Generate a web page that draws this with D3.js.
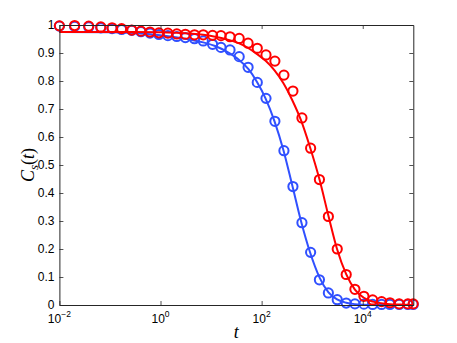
<!DOCTYPE html>
<html><head><meta charset="utf-8">
<script src="https://cdn.jsdelivr.net/npm/d3@7"></script>
<style>
html,body{margin:0;padding:0;background:#fff;}
svg{display:block;}
</style></head>
<body>
<svg id="chart" width="457" height="343"></svg>
<script>
// ---- data ----
const times = [0.01, 0.02, 0.038, 0.066, 0.11, 0.17, 0.27, 0.41, 0.62, 0.93, 1.4, 2.1, 3.1, 4.7, 7.0, 10.7, 15.7, 23.7, 36, 54, 82, 122, 183, 276, 416, 627, 931, 1390, 2090, 3130, 4710, 7000, 10550, 15700, 23600, 34500, 52600, 78200, 99500];
const redValues = [0.997, 0.998, 0.996, 0.993, 0.990, 0.987, 0.982, 0.978, 0.975, 0.972, 0.971, 0.968, 0.967, 0.965, 0.965, 0.963, 0.962, 0.958, 0.952, 0.935, 0.917, 0.893, 0.871, 0.821, 0.764, 0.668, 0.560, 0.448, 0.316, 0.200, 0.109, 0.056, 0.031, 0.018, 0.012, 0.008, 0.004, 0.004, 0.004];
const blueValues = [0.996, 0.995, 0.993, 0.990, 0.987, 0.984, 0.981, 0.976, 0.971, 0.966, 0.962, 0.959, 0.955, 0.951, 0.943, 0.931, 0.920, 0.911, 0.887, 0.849, 0.795, 0.738, 0.656, 0.551, 0.423, 0.294, 0.188, 0.090, 0.043, 0.019, 0.007, 0.004, 0.003, 0.002, 0.002, 0.002, 0.002, 0.002, 0.002];
const fitTimes = [0.01, 0.1, 0.3, 1, 2, 4, 7, 12, 20, 35, 55, 80, 120, 180, 270, 400, 600, 900, 1400, 2100, 3100, 4700, 7000, 10500, 16000, 25000, 40000, 70000, 100000];
const redFit = [0.975, 0.975, 0.975, 0.974, 0.972, 0.969, 0.965, 0.958, 0.949, 0.935, 0.917, 0.897, 0.872, 0.838, 0.792, 0.733, 0.66, 0.565, 0.447, 0.318, 0.2, 0.11, 0.055, 0.026, 0.012, 0.005, 0.002, 0.001, 0.0];
const blueFit = [0.975, 0.974, 0.971, 0.963, 0.956, 0.947, 0.938, 0.925, 0.906, 0.877, 0.842, 0.798, 0.737, 0.656, 0.553, 0.43, 0.30, 0.19, 0.098, 0.045, 0.02, 0.008, 0.003, 0.001, 0.0, 0.0, 0.0, 0.0, 0.0];
const xTicks = [1e-2, 1e0, 1e2, 1e4];
const xTickExponents = ["\u22122", "0", "2", "4"];
const yTicks = [0, 0.1, 0.2, 0.3, 0.4, 0.5, 0.6, 0.7, 0.8, 0.9, 1];
const yTickLabels = ["0", "0.1", "0.2", "0.3", "0.4", "0.5", "0.6", "0.7", "0.8", "0.9", "1"];

// ---- layout ----
const L = 59.4, R = 413.3, T = 25, B = 305;
const svg = d3.select("#chart");
const x = d3.scaleLog().domain([1e-2, 1e5]).range([L, R]);
const y = d3.scaleLinear().domain([0, 1]).range([B, T]);
const font = "Helvetica, Arial, 'Liberation Sans', sans-serif";
const axisColor = "#262626";
const RED = "#ff0000", BLUE = "#3050ff";

// series
const lineGen = d3.line().x(d => x(d[0])).y(d => y(d[1])).curve(d3.curveMonotoneX);
function series(vals, fit, color) {
  svg.append("path")
    .datum(fitTimes.map((t, i) => [t, fit[i]]))
    .attr("d", lineGen).attr("fill", "none").attr("stroke", color).attr("stroke-width", 2);
  svg.append("g").selectAll("circle")
    .data(times.map((t, i) => [t, vals[i]]))
    .join("circle")
    .attr("cx", d => x(d[0])).attr("cy", d => y(d[1])).attr("r", 4.6)
    .attr("fill", "none").attr("stroke", color).attr("stroke-width", 2);
}
series(blueValues, blueFit, BLUE);
series(redValues, redFit, RED);

// axes (MATLAB-style inward ticks, boxed)
function styleAxis(g) {
  g.select(".domain").attr("stroke", axisColor).attr("stroke-width", 1);
  g.selectAll(".tick line").attr("stroke", axisColor).attr("stroke-width", 0.8);
}
const gB = svg.append("g").attr("transform", `translate(0,${B})`)
  .call(d3.axisBottom(x).tickValues(xTicks).tickSizeInner(-4).tickSizeOuter(0).tickFormat(""));
styleAxis(gB);
gB.selectAll(".tick text").remove();
const gT = svg.append("g").attr("transform", `translate(0,${T})`)
  .call(d3.axisTop(x).tickValues(xTicks).tickSizeInner(-4).tickSizeOuter(0).tickFormat(""));
styleAxis(gT);
const gL = svg.append("g").attr("transform", `translate(${L},0)`)
  .call(d3.axisLeft(y).tickValues(yTicks).tickSizeInner(-4).tickSizeOuter(0).tickPadding(5)
    .tickFormat((d, i) => yTickLabels[i]));
styleAxis(gL);
gL.selectAll(".tick text").attr("font-family", font).attr("font-size", 12).attr("fill", "#000");
const gR = svg.append("g").attr("transform", `translate(${R},0)`)
  .call(d3.axisRight(y).tickValues(yTicks).tickSizeInner(-4).tickSizeOuter(0).tickFormat(""));
styleAxis(gR);

// x tick labels 10^n
const xl = svg.append("g").selectAll("text").data(xTicks).join("text")
  .attr("x", d => x(d)).attr("y", 323.3).attr("text-anchor", "middle")
  .attr("font-family", font).attr("font-size", 12).attr("fill", "#000");
xl.append("tspan").text("10");
xl.append("tspan").attr("font-size", 8.5).attr("dy", -6).text((d, i) => xTickExponents[i]);

// axis titles
svg.append("text").attr("x", (L + R) / 2).attr("y", 338).attr("text-anchor", "middle")
  .attr("font-family", "'Liberation Serif', 'Times New Roman', serif").attr("font-style", "italic")
  .attr("font-size", 18).text("t");
const yl = svg.append("text").attr("transform", `translate(33.5,${(T + B) / 2}) rotate(-90)`)
  .attr("text-anchor", "middle")
  .attr("font-family", "'Liberation Serif', 'Times New Roman', serif").attr("font-size", 18);
yl.append("tspan").attr("font-style", "italic").text("C");
yl.append("tspan").attr("font-style", "italic").attr("font-size", 13).attr("dy", 4).text("s");
yl.append("tspan").attr("dy", -4).text("(");
yl.append("tspan").attr("font-style", "italic").text("t");
yl.append("tspan").text(")");
</script>
</body></html>
